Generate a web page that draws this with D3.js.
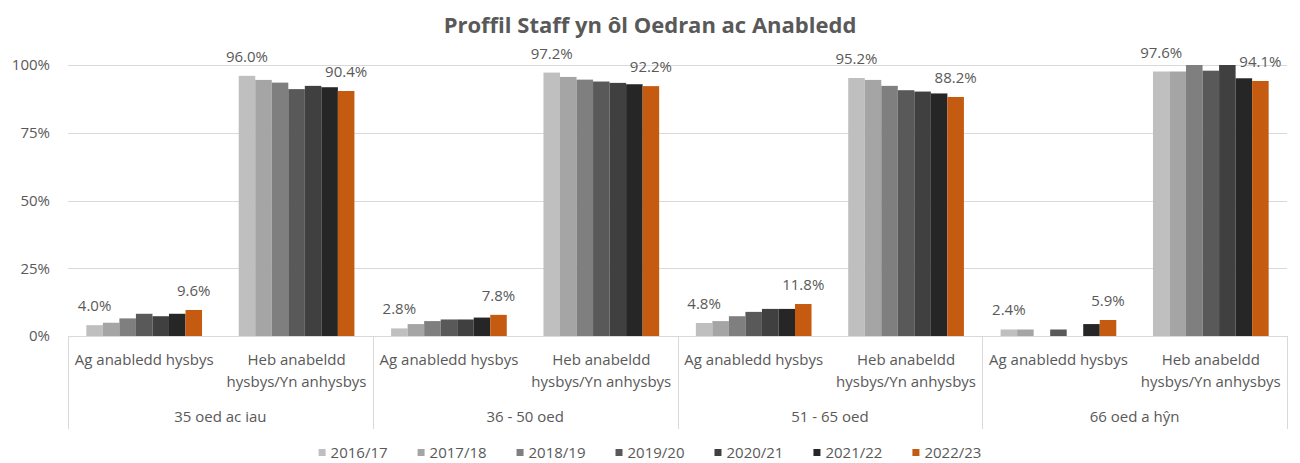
<!DOCTYPE html>
<html>
<head>
<meta charset="utf-8">
<script src="https://cdn.jsdelivr.net/npm/d3@7"></script>
<style>
  body { margin: 0; background: #fff; }
  svg text { font-family: "Open Sans", sans-serif; fill: #595959; }
</style>
</head>
<body>
<div id="chart"></div>
<script>
// chart data
const title = "Proffil Staff yn ôl Oedran ac Anabledd";
const ageGroups = ["35 oed ac iau", "36 - 50 oed", "51 - 65 oed", "66 oed a hŷn"];
const subLabels = [["Ag anabledd hysbys"], ["Heb anabeldd", "hysbys/Yn anhysbys"]];
const years = ["2016/17", "2017/18", "2018/19", "2019/20", "2020/21", "2021/22", "2022/23"];
const yTicks = [0, 0.25, 0.5, 0.75, 1];

// one array per year, in order: group1 sub1, group1 sub2, group2 sub1, ...
const v1617 = [4.0, 96.0, 2.8, 97.2, 4.8, 95.2, 2.4, 97.6];
const v1718 = [4.9, 94.5, 4.4, 95.6, 5.5, 94.5, 2.4, 97.6];
const v1819 = [6.5, 93.5, 5.5, 94.6, 7.3, 92.3, null, 100.0];
const v1920 = [8.2, 91.1, 6.1, 93.9, 8.9, 90.7, 2.4, 97.9];
const v2021 = [7.3, 92.3, 6.1, 93.4, 10.0, 90.2, null, 100.0];
const v2122 = [8.2, 91.8, 6.8, 92.9, 10.0, 89.5, 4.4, 95.1];
const v2223 = [9.6, 90.4, 7.8, 92.2, 11.8, 88.2, 5.9, 94.1];
const seriesValues = [v1617, v1718, v1819, v1920, v2021, v2122, v2223];
const colors = ["#BFBFBF", "#A5A5A5", "#7F7F7F", "#595959", "#404040", "#262626", "#C55A11"];
const labelledSeries = [0, 6]; // only first and last year carry data labels

const width = 1300, height = 463;
const margin = { top: 65, right: 13, left: 68 };
const y0 = 336; // baseline of the bars

const svg = d3.select("#chart").append("svg")
    .attr("width", width)
    .attr("height", height);

// slots: one per (age group, sub category)
const slots = [];
ageGroups.forEach((g, gi) => subLabels.forEach((s, si) => slots.push({ g: gi, s: si, i: gi * subLabels.length + si })));

const x0 = d3.scaleBand()
    .domain(slots.map(d => d.i))
    .range([margin.left, width - margin.right]);

const x1 = d3.scaleBand()
    .domain(years)
    .range([0, x0.bandwidth()])
    .paddingOuter(1.11);

const y = d3.scaleLinear()
    .domain([0, 1])
    .range([y0, margin.top]);

// gridlines
svg.append("g")
    .selectAll("line")
    .data(yTicks)
    .join("line")
    .attr("x1", margin.left)
    .attr("x2", width - margin.right)
    .attr("y1", d => Math.round(y(d)) + 0.5)
    .attr("y2", d => Math.round(y(d)) + 0.5)
    .attr("stroke", "#D9D9D9")
    .attr("stroke-width", 1);

// y axis labels
svg.append("g")
    .selectAll("text")
    .data(yTicks)
    .join("text")
    .attr("x", 50)
    .attr("y", d => y(d))
    .attr("dy", "0.35em")
    .attr("text-anchor", "end")
    .style("font-size", "15px")
    .text(d3.format(".0%"));

// bars
const seriesG = svg.append("g")
    .selectAll("g")
    .data(years.map((yr, k) => ({ yr, k, values: seriesValues[k] })))
    .join("g")
    .attr("fill", d => colors[d.k]);

seriesG.selectAll("rect")
    .data(d => d.values.map((v, i) => ({ v, i, yr: d.yr })).filter(d => d.v !== null))
    .join("rect")
    .attr("x", d => x0(d.i) + x1(d.yr))
    .attr("width", x1.bandwidth())
    .attr("y", d => y(d.v / 100))
    .attr("height", d => y(0) - y(d.v / 100));

// data labels
svg.append("g")
    .selectAll("g")
    .data(labelledSeries)
    .join("g")
    .selectAll("text")
    .data(k => seriesValues[k].map((v, i) => ({ v, i, yr: years[k] })).filter(d => d.v !== null))
    .join("text")
    .attr("x", d => x0(d.i) + x1(d.yr) + x1.bandwidth() / 2)
    .attr("y", d => y(d.v / 100) - 14)
    .attr("text-anchor", "middle")
    .style("font-size", "15px")
    .text(d => d.v.toFixed(1) + "%");

// category axis: separators between age groups
const groupEdges = d3.range(ageGroups.length + 1).map(gi =>
    gi < ageGroups.length ? x0(gi * subLabels.length) : width - margin.right);

svg.append("g")
    .selectAll("line")
    .data(groupEdges)
    .join("line")
    .attr("x1", d => Math.round(d) + 0.5)
    .attr("x2", d => Math.round(d) + 0.5)
    .attr("y1", y0)
    .attr("y2", 429)
    .attr("stroke", "#D9D9D9");

// sub category labels
const subText = svg.append("g")
    .selectAll("text")
    .data(slots)
    .join("text")
    .attr("x", d => x0(d.i) + x0.bandwidth() / 2)
    .attr("y", 365)
    .attr("text-anchor", "middle")
    .style("font-size", "15px");

subText.selectAll("tspan")
    .data(d => subLabels[d.s])
    .join("tspan")
    .attr("x", function () { return d3.select(this.parentNode).attr("x"); })
    .attr("dy", (d, j) => j === 0 ? 0 : 21.5)
    .text(d => d);

// age group labels
svg.append("g")
    .selectAll("text")
    .data(ageGroups)
    .join("text")
    .attr("x", (d, gi) => (groupEdges[gi] + groupEdges[gi + 1]) / 2)
    .attr("y", 422)
    .attr("text-anchor", "middle")
    .style("font-size", "15px")
    .text(d => d);

// title
svg.append("text")
    .attr("x", 650)
    .attr("y", 33)
    .attr("text-anchor", "middle")
    .style("font-size", "22px")
    .style("font-weight", "bold")
    .text(title);

// legend, centred under the chart
const legend = svg.append("g");
const items = legend.selectAll("g")
    .data(years)
    .join("g");

items.append("rect")
    .attr("width", 7)
    .attr("height", 7)
    .attr("y", -10)
    .attr("fill", (d, k) => colors[k]);

items.append("text")
    .attr("x", 12)
    .attr("y", -1)
    .style("font-size", "15px")
    .text(d => d);

const gap = 30;
let offset = 0;
items.each(function () {
    const w = this.getBBox().width;
    d3.select(this).attr("transform", `translate(${offset},0)`);
    offset += w + gap;
});
const totalW = offset - gap;
legend.attr("transform", `translate(${650 - totalW / 2},459)`);
</script>
</body>
</html>
